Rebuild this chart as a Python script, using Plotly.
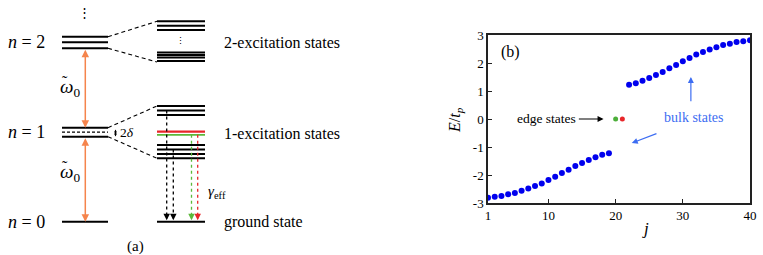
import plotly.graph_objects as go

# ---------------- Panel (b) data ----------------
j_lower = list(range(1, 20))
E_lower = [-2.81, -2.78, -2.75, -2.69, -2.64, -2.56, -2.48, -2.39, -2.30, -2.18,
           -2.06, -1.93, -1.81, -1.68, -1.57, -1.46, -1.37, -1.28, -1.22]
j_upper = list(range(22, 41))
E_upper = [1.22, 1.28, 1.37, 1.46, 1.57, 1.68, 1.81, 1.93, 2.06, 2.18,
           2.30, 2.39, 2.48, 2.56, 2.64, 2.69, 2.75, 2.78, 2.81]
j_edge = [20, 21]
E_edge = [0.0, 0.0]
edge_colors = ["#4caf3a", "#e8262a"]
x_ticks = [1, 10, 20, 30, 40]
y_ticks = [-3, -2, -1, 0, 1, 2, 3]
y_ticktext = ["-3", "-2", "-1", "0", "1", "2", "3"]

# ---------------- Panel (a) diagram data (diagram units) ----------------
left_span = [62, 108]
right_span = [157, 205]
n2_levels = [36.7, 42.3, 48.3]
n1_levels = [127.7, 136.7]
n1_mid = [132.2]
n0_level = [221.7]
ex2_upper = [21.3, 25.7, 30.0]
ex2_lower = [52.5, 55.0, 57.5, 61.0]
ex1_upper = [106.0, 110.5, 115.0]
ex1_red = [131.6]
ex1_green = [134.8]
ex1_lower = [145.0, 149.5, 154.0, 158.3]
ground_level = [221.7]
n_labels = ["<i>n</i> = 2", "<i>n</i> = 1", "<i>n</i> = 0"]
state_labels = ["2-excitation states", "1-excitation states", "ground state"]

FONT = "Liberation Serif, Times New Roman, Times, Nimbus Roman, DejaVu Serif, serif"
ORANGE = "#f5844c"
BLUE = "#0000ee"
LBLUE = "#3d6df2"

fig = go.Figure()

# ---- Panel (b) traces ----
fig.add_trace(go.Scatter(x=j_lower + j_upper, y=E_lower + E_upper, mode="markers",
                         marker=dict(color=BLUE, size=6), showlegend=False,
                         xaxis="x", yaxis="y"))
fig.add_trace(go.Scatter(x=j_edge, y=E_edge, mode="markers",
                         marker=dict(color=edge_colors, size=5), showlegend=False,
                         xaxis="x", yaxis="y"))
# invisible trace for overlay axes
fig.add_trace(go.Scatter(x=[100], y=[100], mode="markers", marker=dict(opacity=0),
                         showlegend=False, hoverinfo="skip", xaxis="x2", yaxis="y2"))

shapes = []
annotations = []

def hline(y, span, color="black", width=2.0, dash=None):
    ln = dict(color=color, width=width)
    if dash:
        ln["dash"] = dash
    shapes.append(dict(type="line", xref="x2", yref="y2", x0=span[0], x1=span[1], y0=y, y1=y,
                       line=ln))

def seg(x0, y0, x1, y1, color="black", width=1.1, dash="4px,3px"):
    shapes.append(dict(type="line", xref="x2", yref="y2", x0=x0, y0=y0, x1=x1, y1=y1,
                       line=dict(color=color, width=width, dash=dash)))

for y in n2_levels + n1_levels + n0_level:
    hline(y, left_span)
for y in n1_mid:
    hline(y, left_span, color="black", width=1.2, dash="3px,2px")
for y in ex2_upper + ex2_lower + ex1_upper + ex1_lower + ground_level:
    hline(y, right_span)
for y in ex1_red:
    hline(y, right_span, color="#e8262a", width=2.4)
for y in ex1_green:
    hline(y, right_span, color="#5cb83a", width=1.8)

# dashed connectors
seg(left_span[1], n2_levels[0], right_span[0], ex2_upper[0])
seg(left_span[1], n2_levels[-1], right_span[0], ex2_lower[-1] + 1)
seg(left_span[1], n1_levels[0], right_span[0], ex1_upper[0])
seg(left_span[1], n1_levels[-1], right_span[0], ex1_lower[-1])

# vertical dashed decay lines
decays = [(166.7, ex1_upper[1], "black"), (173.3, ex1_lower[1], "black"),
          (191.5, ex1_green[0], "#5cb83a"), (197.7, ex1_green[0], "#e8262a")]
for x, ytop, c in decays:
    seg(x, ytop, x, ground_level[0] - 6, color=c, width=1.3, dash="3px,3px")
    annotations.append(dict(xref="x2", yref="y2", x=x, y=ground_level[0] - 1.5, ax=0, ay=-6,
                            showarrow=True, arrowhead=2, arrowsize=1.0, arrowwidth=1.3,
                            arrowcolor=c, text=""))

# orange double arrows
for ya, yb in [(n2_levels[-1], n1_levels[0]), (n1_levels[-1], n0_level[0])]:
    annotations.append(dict(xref="x2", yref="y2", axref="x2", ayref="y2", x=85.3, y=yb,
                            ax=85.3, ay=ya, showarrow=True, arrowhead=2, startarrowhead=2,
                            arrowside="end+start", arrowsize=1.0, arrowwidth=1.5,
                            arrowcolor=ORANGE, text=""))
# 2 delta small arrow
annotations.append(dict(xref="x2", yref="y2", axref="x2", ayref="y2", x=115.5, y=136.5,
                        ax=115.5, ay=128, showarrow=True, arrowhead=2, startarrowhead=2,
                        arrowside="end+start", arrowsize=0.6, arrowwidth=1.0,
                        arrowcolor="black", text=""))

def txt(x, y, s, size=15, xanchor="center", color="black", xref="x2", yref="y2"):
    annotations.append(dict(xref=xref, yref=yref, x=x, y=y, text=s, showarrow=False,
                            xanchor=xanchor, yanchor="middle",
                            font=dict(family=FONT, size=size, color=color)))

txt(127, 132, "2<i>δ</i>", size=13.5)
for lbl, y in zip(n_labels, [n2_levels[1], n1_mid[0], n0_level[0]]):
    txt(26.5, y, lbl, size=18)
for lbl, y in zip(state_labels, [42.7, 133, 222]):
    txt(222, y, lbl, size=16, xanchor="left")
for yw in [88, 173]:
    txt(70, yw, "<i>ω</i><sub>0</sub>", size=19)
    txt(64.5, yw - 7, "˜", size=16)
txt(217, 192, "<i>γ</i><sub>eff</sub>", size=15)
txt(135.5, 246, "(a)", size=15)
txt(84, 12, "⋮", size=13)
txt(180, 41, "⋮", size=9)

# ---- Panel (b) annotations ----
txt(4.4, 2.38, "(b)", size=16, xref="x", yref="y")
txt(9.7, 0.0, "edge states", size=13.5, xref="x", yref="y")
annotations.append(dict(xref="x", yref="y", axref="x", ayref="y", x=18.2, y=0, ax=14.3, ay=0,
                        showarrow=True, arrowhead=2, arrowsize=1, arrowwidth=1.2,
                        arrowcolor="black", text=""))
txt(31.6, 0.07, "bulk states", size=14, color=LBLUE, xref="x", yref="y")
annotations.append(dict(xref="x", yref="y", axref="x", ayref="y", x=31.2, y=1.5, ax=31.2, ay=0.58,
                        showarrow=True, arrowhead=2, arrowsize=1, arrowwidth=1.2,
                        arrowcolor=LBLUE, text=""))
annotations.append(dict(xref="x", yref="y", axref="x", ayref="y", x=22.4, y=-0.86, ax=26.3, ay=-0.5,
                        showarrow=True, arrowhead=2, arrowsize=1, arrowwidth=1.2,
                        arrowcolor=LBLUE, text=""))
txt(455 / 763, 1 - 120 / 255, "<i>E</i>/<i>t<sub>p</sub></i>", size=16, xref="paper", yref="paper")
annotations[-1].update(textangle=-90)
txt(645 / 763, 1 - 228 / 255, "<i>j</i>", size=17, xref="paper", yref="paper")

fig.update_layout(
    width=763, height=255, margin=dict(l=0, r=0, t=0, b=0, pad=0, autoexpand=False),
    paper_bgcolor="white", plot_bgcolor="white",
    font=dict(family=FONT, size=13, color="black"),
    shapes=shapes, annotations=annotations,
    xaxis=dict(domain=[488 / 763, 750 / 763], range=[1, 40], tickvals=x_ticks,
               ticks="inside", ticklen=4, tickcolor="#222", showline=True, linecolor="#222",
               linewidth=1.5, mirror=True, showgrid=False, zeroline=False, automargin=False,
               tickfont=dict(family=FONT, size=13)),
    yaxis=dict(domain=[1 - 203 / 255, 1 - 35 / 255], range=[-3, 3], tickvals=y_ticks,
               ticktext=y_ticktext, ticks="inside", ticklen=4, tickcolor="#222",
               showline=True, linecolor="#222", linewidth=1.5, mirror=True, automargin=False,
               showgrid=False, zeroline=False, tickfont=dict(family=FONT, size=13)),
    xaxis2=dict(domain=[0, 343 / 763], range=[0, 343], visible=False, anchor="y2"),
    yaxis2=dict(domain=[0, 1], range=[255, 0], visible=False, anchor="x2"),
)

fig.write_html("out.html", config={"displayModeBar": False},
               post_script="document.body.style.margin='0px';")
